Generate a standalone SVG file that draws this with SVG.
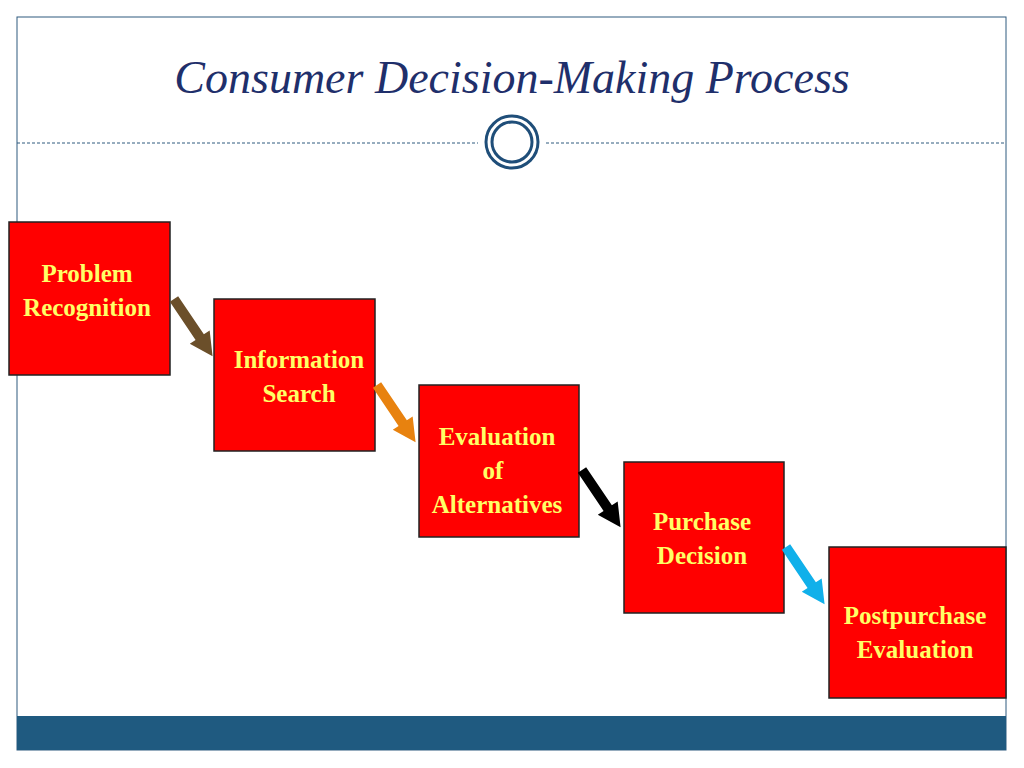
<svg xmlns="http://www.w3.org/2000/svg" width="1024" height="768" viewBox="0 0 1024 768">
<style>
.box{fill:#ff0000;stroke:#222;stroke-width:1.5}
.lbl{font-family:"Liberation Serif",serif;font-weight:bold;font-size:25px;fill:#ffff66;text-anchor:middle}
</style>
<defs><polygon id="arr" points="0,-5 46,-5 46,-12 69,0 46,12 46,5 0,5"/></defs>
<rect width="1024" height="768" fill="#fff"/>
<rect x="17" y="17" width="989" height="733" fill="none" stroke="#2e5a7f" stroke-width="1"/>
<rect x="17" y="716" width="989" height="34" fill="#1f5a80"/>
<line x1="17" y1="143" x2="478" y2="143" stroke="#2e5a7f" stroke-dasharray="3,2"/>
<line x1="546" y1="143" x2="1006" y2="143" stroke="#2e5a7f" stroke-dasharray="3,2"/>
<circle cx="512" cy="142" r="26" fill="none" stroke="#1f4e79" stroke-width="3"/>
<circle cx="512" cy="142" r="20" fill="none" stroke="#1f4e79" stroke-width="3"/>
<text x="512" y="93" font-family="Liberation Serif,serif" font-style="italic" font-size="46" fill="#1f2f6b" text-anchor="middle">Consumer Decision-Making Process</text>
<g id="n1"><rect class="box" x="9" y="222" width="161" height="153"/><text class="lbl" x="87" y="282">Problem</text><text class="lbl" x="87" y="316">Recognition</text></g>
<g id="n2"><rect class="box" x="214" y="299" width="161" height="152"/><text class="lbl" x="299" y="368">Information</text><text class="lbl" x="299" y="402">Search</text></g>
<g id="n3"><rect class="box" x="419" y="385" width="160" height="152"/><text class="lbl" x="497" y="445">Evaluation</text><text class="lbl" x="493" y="479">of</text><text class="lbl" x="497" y="513">Alternatives</text></g>
<g id="n4"><rect class="box" x="624" y="462" width="160" height="151"/><text class="lbl" x="702" y="530">Purchase</text><text class="lbl" x="702" y="564">Decision</text></g>
<g id="n5"><rect class="box" x="829" y="547" width="177" height="151"/><text class="lbl" x="915" y="624">Postpurchase</text><text class="lbl" x="915" y="658">Evaluation</text></g>
<g id="connectors">
<use href="#arr" fill="#6b4f2a" transform="translate(174,299) rotate(56)"/>
<use href="#arr" fill="#e8820f" transform="translate(377,385) rotate(56)"/>
<use href="#arr" fill="#000" transform="translate(582,470) rotate(56)"/>
<use href="#arr" fill="#10b0ea" transform="translate(786,547) rotate(56)"/>
</g>
</svg>
